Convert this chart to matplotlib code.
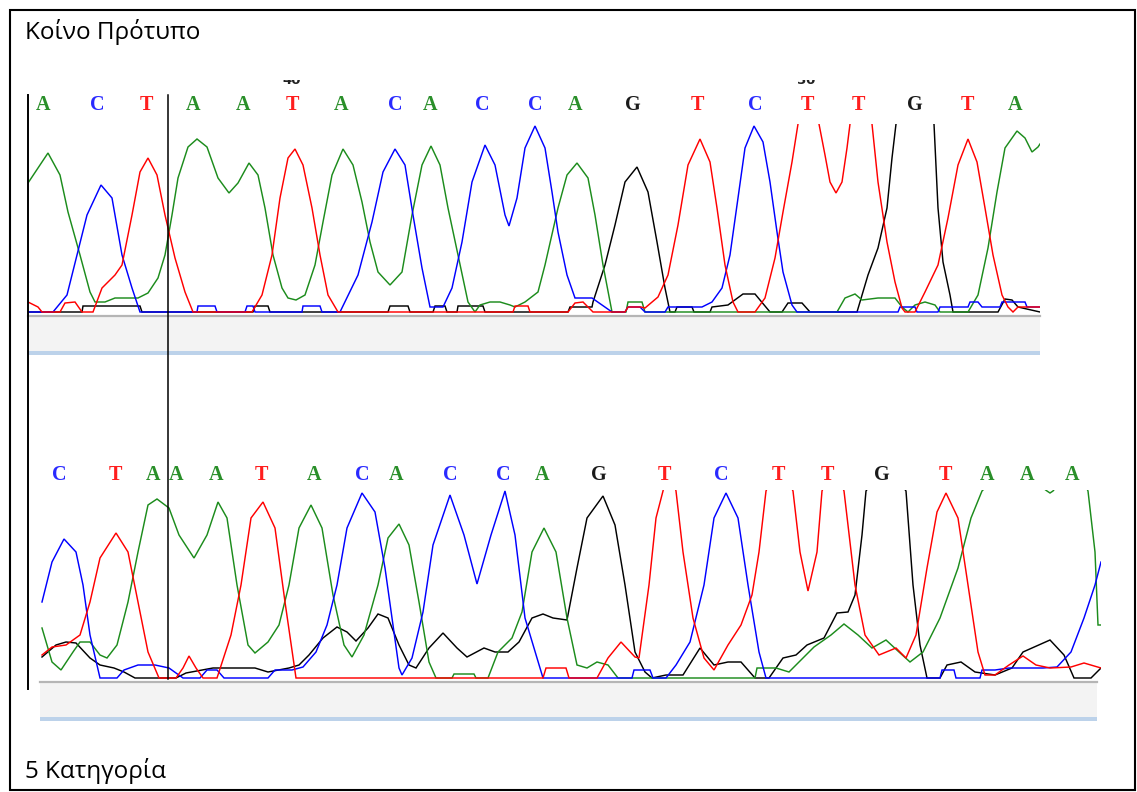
"""Two Sanger chromatogram strips: the common template and category 5."""

import matplotlib
matplotlib.use("Agg")
import matplotlib.pyplot as plt
from matplotlib.patches import Rectangle

W, H = 1137, 792

# ---------------------------------------------------------------------------
# Data (x = scan position, h = signal height above baseline)
# ---------------------------------------------------------------------------

TITLE_TOP = "Κοίνο Πρότυπο"
TITLE_BOTTOM = "5 Κατηγορία"

upper_bases = "ACTAATACACCAGTCTTGTA"
upper_base_x = [43, 97, 146, 193, 243, 292, 341, 395, 430, 482,
                535, 575, 633, 697, 755, 807, 858, 915, 967, 1015]
upper_marks = ["40", "50"]
upper_mark_x = [292, 806]

lower_bases = "CTAAATACACCAGTCTTGTAAA"
lower_base_x = [59, 115, 153, 176, 216, 261, 314, 362, 396, 450, 503,
                542, 599, 664, 721, 778, 827, 882, 945, 987, 1027, 1072]

upper_A = [(28, 129), (40, 147), (48, 159), (60, 137), (68, 100), (80, 57),
           (90, 20), (95, 10), (105, 10), (115, 14), (138, 14), (148, 19),
           (158, 34), (165, 57), (172, 97), (178, 134), (188, 165), (197, 173),
           (207, 165), (218, 134), (229, 119), (238, 129), (249, 149),
           (258, 137), (265, 104), (273, 57), (282, 24), (288, 14), (296, 12),
           (305, 17), (315, 47), (323, 90), (332, 137), (343, 163), (353, 147),
           (362, 110), (370, 70), (378, 40), (390, 27), (402, 40), (412, 97),
           (422, 147), (431, 166), (440, 147), (448, 104), (458, 57),
           (468, 10), (475, 0), (480, 7), (490, 10), (500, 10), (510, 7),
           (515, 5), (525, 10), (538, 20), (545, 47), (558, 104), (567, 137),
           (577, 149), (588, 134), (595, 97), (603, 47), (612, 0), (626, 0),
           (628, 10), (642, 10), (645, 0), (837, 0), (845, 14), (855, 18),
           (862, 12), (878, 14), (895, 14), (902, 5), (908, 0), (915, 7),
           (925, 10), (935, 7), (940, 0), (968, 0), (978, 17), (988, 64),
           (997, 120), (1005, 164), (1017, 181), (1025, 174), (1032, 160),
           (1038, 165), (1040, 168)]

upper_C = [(28, 0), (53, 0), (67, 17), (77, 57), (87, 97), (101, 127),
           (112, 114), (122, 57), (132, 24), (140, 0), (197, 0), (198, 6),
           (215, 6), (217, 0), (245, 0), (247, 6), (253, 6), (255, 0),
           (302, 0), (303, 6), (320, 6), (322, 0), (340, 0), (358, 37),
           (372, 90), (383, 140), (395, 163), (405, 147), (413, 97), (422, 44),
           (430, 5), (443, 5), (452, 24), (462, 70), (472, 130), (485, 167),
           (495, 147), (505, 97), (509, 86), (517, 114), (525, 164),
           (535, 186), (545, 164), (552, 120), (558, 80), (567, 37), (575, 14),
           (592, 14), (602, 7), (612, 0), (625, 0), (628, 5), (640, 5),
           (645, 0), (665, 0), (668, 5), (702, 5), (712, 10), (722, 24),
           (730, 57), (738, 114), (745, 164), (754, 186), (763, 170),
           (770, 130), (777, 80), (783, 40), (792, 7), (797, 0), (898, 0),
           (900, 5), (915, 5), (917, 0), (938, 0), (940, 5), (968, 5),
           (970, 10), (978, 10), (982, 5), (1000, 5), (1002, 10), (1025, 10),
           (1027, 5), (1040, 5)]

upper_T = [(28, 10), (38, 5), (42, 0), (60, 0), (65, 9), (75, 10), (82, 0),
           (93, 0), (102, 24), (115, 37), (122, 47), (132, 97), (140, 140),
           (148, 154), (157, 137), (165, 97), (175, 54), (185, 20), (193, 0),
           (252, 0), (262, 17), (272, 57), (280, 114), (288, 154), (295, 163),
           (303, 147), (312, 104), (320, 57), (328, 17), (338, 0), (513, 0),
           (515, 6), (528, 6), (530, 0), (568, 0), (575, 9), (583, 10),
           (593, 0), (625, 0), (628, 5), (641, 5), (645, 4), (658, 15),
           (668, 37), (678, 87), (688, 147), (700, 173), (710, 150),
           (717, 104), (725, 47), (733, 10), (738, 0), (755, 0), (765, 14),
           (775, 54), (783, 100), (792, 150), (798, 188), (808, 215),
           (819, 188), (825, 157), (830, 130), (836, 119), (842, 130),
           (847, 164), (850, 188), (861, 215), (872, 188), (878, 130),
           (887, 70), (895, 30), (902, 4), (905, 0), (915, 0), (925, 20),
           (938, 47), (948, 94), (958, 147), (968, 173), (977, 150),
           (985, 104), (993, 57), (1002, 17), (1008, 5), (1013, 0), (1018, 5),
           (1040, 5)]

upper_G = [(28, 0), (82, 0), (83, 6), (140, 6), (142, 0), (253, 0), (255, 6),
           (268, 6), (270, 0), (388, 0), (390, 6), (408, 6), (410, 0),
           (433, 0), (435, 6), (445, 6), (447, 0), (457, 0), (458, 6),
           (483, 6), (485, 0), (568, 0), (570, 5), (592, 5), (593, 10),
           (605, 47), (615, 87), (625, 130), (637, 145), (648, 120), (657, 70),
           (665, 24), (670, 0), (675, 0), (677, 5), (692, 5), (694, 0),
           (710, 0), (712, 5), (728, 7), (743, 18), (755, 18), (770, 0),
           (782, 0), (788, 9), (802, 9), (810, 0), (857, 0), (868, 37),
           (878, 64), (887, 104), (892, 154), (896, 188), (915, 215),
           (934, 188), (938, 104), (943, 50), (950, 17), (953, 0), (998, 0),
           (1005, 13), (1012, 12), (1018, 5), (1040, 0)]

lower_A = [(42, 50), (52, 16), (61, 8), (73, 26), (80, 36), (90, 36),
           (100, 23), (107, 20), (117, 33), (128, 76), (138, 126), (148, 173),
           (157, 179), (169, 170), (179, 143), (194, 120), (207, 143),
           (218, 176), (227, 160), (237, 93), (248, 33), (255, 25), (268, 36),
           (279, 53), (289, 93), (299, 150), (311, 173), (322, 150), (333, 83),
           (344, 33), (352, 21), (364, 43), (378, 93), (388, 140), (399, 154),
           (409, 133), (419, 76), (429, 16), (436, 0), (452, 0), (454, 4),
           (474, 4), (476, 0), (488, 0), (498, 26), (512, 40), (522, 66),
           (532, 126), (544, 150), (556, 126), (567, 60), (577, 13), (587, 10),
           (597, 16), (608, 13), (618, 0), (755, 0), (757, 10), (776, 10),
           (789, 6), (803, 20), (814, 31), (831, 43), (844, 54), (858, 43),
           (872, 30), (886, 38), (899, 26), (910, 16), (923, 26), (940, 60),
           (958, 110), (971, 160), (982, 187), (1010, 215), (1047, 187),
           (1050, 185), (1053, 187), (1075, 215), (1088, 187), (1095, 126),
           (1098, 53), (1101, 53)]

lower_C = [(42, 76), (52, 116), (64, 139), (76, 126), (83, 93), (90, 43),
           (100, 0), (117, 0), (124, 8), (138, 13), (155, 13), (169, 10),
           (183, 0), (200, 0), (207, 8), (217, 8), (224, 0), (268, 0),
           (275, 8), (292, 8), (303, 11), (316, 26), (327, 53), (337, 93),
           (347, 150), (362, 185), (375, 166), (385, 110), (392, 60),
           (399, 10), (402, 3), (412, 20), (423, 66), (433, 133), (450, 183),
           (464, 143), (477, 94), (491, 143), (505, 187), (515, 143),
           (525, 60), (543, 0), (632, 0), (634, 8), (650, 8), (653, 0),
           (666, 0), (676, 13), (690, 36), (704, 93), (714, 160), (726, 185),
           (738, 160), (748, 93), (759, 26), (766, 0), (940, 0), (942, 8),
           (954, 8), (956, 0), (980, 0), (982, 8), (995, 8), (1009, 10),
           (1043, 10), (1057, 11), (1071, 26), (1084, 60), (1095, 93),
           (1101, 116)]

lower_T = [(42, 23), (52, 31), (66, 33), (80, 43), (90, 76), (100, 120),
           (116, 145), (128, 126), (138, 76), (148, 26), (159, 0), (176, 0),
           (183, 10), (189, 22), (196, 10), (203, 0), (217, 0), (231, 43),
           (241, 93), (251, 160), (263, 176), (275, 150), (285, 76), (296, 0),
           (543, 0), (546, 10), (566, 10), (569, 0), (597, 0), (608, 20),
           (621, 36), (635, 21), (639, 20), (649, 93), (656, 160), (663, 187),
           (669, 215), (676, 187), (683, 126), (693, 60), (704, 20), (714, 8),
           (728, 33), (741, 53), (752, 83), (759, 126), (766, 187), (779, 215),
           (793, 187), (800, 126), (808, 87), (817, 126), (822, 187),
           (833, 215), (844, 187), (855, 93), (865, 43), (879, 23), (896, 30),
           (906, 20), (916, 43), (927, 110), (937, 166), (946, 185),
           (958, 160), (968, 93), (978, 26), (985, 3), (995, 3), (1009, 13),
           (1023, 22), (1036, 13), (1050, 10), (1071, 11), (1084, 15),
           (1101, 10)]

lower_G = [(42, 21), (56, 33), (66, 36), (76, 35), (90, 20), (100, 13),
           (114, 10), (124, 6), (135, 0), (176, 0), (186, 5), (213, 10),
           (255, 10), (268, 6), (289, 10), (299, 13), (309, 23), (323, 40),
           (337, 51), (347, 46), (356, 37), (368, 50), (378, 64), (388, 60),
           (399, 33), (409, 13), (416, 10), (429, 30), (443, 45), (457, 30),
           (467, 21), (484, 30), (495, 26), (508, 26), (519, 36), (532, 60),
           (543, 64), (553, 60), (567, 58), (577, 110), (587, 160),
           (603, 182), (615, 153), (625, 93), (635, 26), (645, 6), (652, 0),
           (666, 3), (683, 3), (700, 30), (714, 13), (728, 16), (741, 16),
           (755, 0), (769, 0), (783, 20), (796, 23), (807, 33), (824, 40),
           (837, 65), (848, 66), (855, 83), (862, 143), (866, 187), (886, 215),
           (906, 187), (913, 93), (920, 33), (927, 0), (940, 0), (947, 13),
           (961, 16), (975, 6), (995, 3), (1012, 10), (1023, 26), (1050, 38),
           (1064, 23), (1074, 0), (1091, 0), (1101, 10)]

# ---------------------------------------------------------------------------
# Styling
# ---------------------------------------------------------------------------

TRACE_COLORS = {"A": "#1c8c1c", "C": "#0000ff", "T": "#ff0000", "G": "#000000"}
BASE_COLORS = {"A": "#2a8f2a", "C": "#2a2aff", "T": "#ff1e1e", "G": "#1a1a1a"}
TEXT_FONT = ["Open Sans", "DejaVu Sans"]
BASE_FONT = "Liberation Serif"


def px_axes(fig, x0, x1, y_top, y_base, y_bottom):
    """Axes spanning pixel box; signal 0 sits on pixel row y_base."""
    ax = fig.add_axes([x0 / W, 1 - y_bottom / H, (x1 - x0) / W,
                       (y_bottom - y_top) / H])
    ax.set_xlim(x0, x1)
    ax.set_ylim(y_base - y_bottom, y_base - y_top)
    ax.set_axis_off()
    ax.patch.set_alpha(0)
    return ax


def draw_traces(ax, traces):
    for base in ("G", "A", "C", "T"):
        pts = traces[base]
        ax.plot([p[0] for p in pts], [p[1] for p in pts],
                color=TRACE_COLORS[base], lw=1.05, solid_joinstyle="miter")


def draw_bases(ax, bases, xs, h):
    for b, x in zip(bases, xs):
        ax.text(x, h, b, color=BASE_COLORS[b], family=BASE_FONT,
                fontweight="bold", fontsize=14.5, ha="center", va="center",
                clip_on=False)


def scroll_bar(canvas, x0, x1, y0, y1):
    canvas.add_patch(Rectangle((x0, y0), x1 - x0, y1 - y0,
                               facecolor="#f3f3f3", edgecolor="none"))
    canvas.plot([x0, x1], [y0 + 1, y0 + 1], color="#b5b5b5", lw=1.6)
    canvas.add_patch(Rectangle((x0, y1 - 1), x1 - x0, 4,
                               facecolor="#bcd2ea", edgecolor="none"))


fig = plt.figure(figsize=(W / 100, H / 100), dpi=100)
fig.patch.set_facecolor("white")

# upper strip: common template
ax_u = px_axes(fig, 28, 1040, 123.5, 312, 313.5)
draw_traces(ax_u, {"A": upper_A, "C": upper_C, "T": upper_T, "G": upper_G})
draw_bases(ax_u, upper_bases, upper_base_x, 312 - 105)

# lower strip: category 5
ax_l = px_axes(fig, 40, 1101, 489.5, 678, 679.5)
draw_traces(ax_l, {"A": lower_A, "C": lower_C, "T": lower_T, "G": lower_G})
draw_bases(ax_l, lower_bases, lower_base_x, 678 - 475)

# page canvas in pixel coordinates (on top, transparent)
canvas = fig.add_axes([0, 0, 1, 1], zorder=5)
canvas.set_xlim(0, W)
canvas.set_ylim(H, 0)
canvas.set_axis_off()
canvas.patch.set_alpha(0)

canvas.add_patch(Rectangle((9.5, 10), 1125, 780, facecolor="none",
                           edgecolor="black", lw=1.5))
canvas.text(25, 32, TITLE_TOP, family=TEXT_FONT, fontsize=17.5,
            ha="left", va="center")
canvas.text(25, 771, TITLE_BOTTOM, family=TEXT_FONT, fontsize=17.5,
            ha="left", va="center")

scroll_bar(canvas, 28, 1040, 314.5, 352)
scroll_bar(canvas, 40, 1097, 680.5, 718)

# cursor lines
canvas.plot([28, 28], [95, 689], color="black", lw=1.4)
canvas.plot([168, 168], [95, 679], color="black", lw=1.1)

# scale numbers, cut off at the top of the strip window
for m, x in zip(upper_marks, upper_mark_x):
    canvas.text(x, 80, m, fontsize=9.5, fontweight="bold", color="#222222",
                ha="center", va="center", zorder=2)
    canvas.add_patch(Rectangle((x - 14, 68), 28, 12, facecolor="white",
                               edgecolor="none", zorder=3))

fig.savefig("out.png", dpi=100, facecolor="white")
